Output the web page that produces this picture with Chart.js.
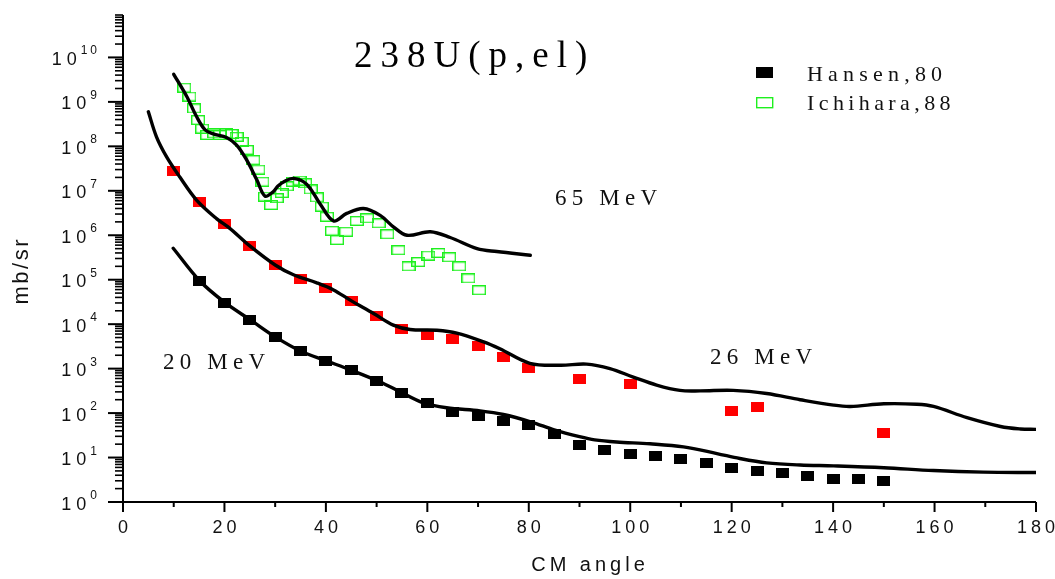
<!DOCTYPE html>
<html>
<head>
<meta charset="utf-8">
<script src="https://cdn.jsdelivr.net/npm/chart.js@4/dist/chart.umd.min.js"></script>
<style>
html,body{margin:0;padding:0;background:#fff;}
#wrap{width:1055px;height:579px;position:relative;}
canvas{display:block;}
</style>
</head>
<body>
<div id="wrap"><canvas id="c" width="1055" height="579"></canvas></div>
<script>
// ---- tick labels ----
const angleTicks = [0, 20, 40, 60, 80, 100, 120, 140, 160, 180];
const angleMinorTicks = [10, 30, 50, 70, 90, 110, 130, 150, 170];
const yDecadeExponents = [0, 1, 2, 3, 4, 5, 6, 7, 8, 9, 10];

// ---- texts ----
const titleText = "238U(p,el)";
const xTitle = "CM angle";
const yTitle = "mb/sr";
const energyLabels = ["65 MeV", "26 MeV", "20 MeV"];
const legendLabels = ["Hansen,80", "Ichihara,88"];

// ---- data: Hansen,80 (20 MeV, filled black squares) ----
const hansenAngles = [15,20,25,30,35,40,45,50,55,60,65,70,75,80,85,90,95,100,105,110,115,120,125,130,135,140,145,150];
const hansenValues = [9.4e4,3.0e4,1.25e4,5.2e3,2.5e3,1.5e3,920,525,278,165,108,88,66,53,33,19.5,15.1,12.0,11.1,9.1,7.4,5.7,5.0,4.4,3.8,3.24,3.24,2.9];

// ---- data: Ichihara,88 (65 MeV, open green squares) ----
const ichiharaAngles = [12.1,13.1,14.0,14.8,15.6,16.6,18.0,19.1,20.3,21.4,22.4,23.4,24.4,25.7,26.7,27.5,28.0,29.2,30.3,31.3,32.3,33.5,34.8,35.9,37.0,38.2,39.2,40.2,41.2,42.2,44.0,46.1,48.1,50.4,52.1,54.3,56.3,58.2,60.2,62.2,64.3,66.3,68.1,70.2];
const ichiharaValues = [2.09e9,1.32e9,7.1e8,3.9e8,2.5e8,1.8e8,1.95e8,1.8e8,1.95e8,1.9e8,1.64e8,1.26e8,8.3e7,4.9e7,3.0e7,1.6e7,7.4e6,4.8e6,6.8e6,8.9e6,1.26e7,1.6e7,1.7e7,1.48e7,1.07e7,7.1e6,4.4e6,2.6e6,1.26e6,7.8e5,1.2e6,2.1e6,2.4e6,1.86e6,1.05e6,4.6e5,2.0e5,2.5e5,3.5e5,4.0e5,3.2e5,2.0e5,1.07e5,5.8e4];

// ---- data: 26 MeV (filled red squares) ----
const data26Angles = [10,15,20,25,30,35,40,45,50,55,60,65,70,75,80,90,100,120,125,150];
const data26Values = [2.8e7,5.6e6,1.8e6,5.8e5,2.15e5,1.05e5,6.4e4,3.3e4,1.5e4,7.8e3,5.6e3,4.7e3,3.2e3,1.84e3,1.06e3,590,453,112,138,35];

// ---- calculations (solid black curves) ----
const calc65Angles = [10.0,12.6,14.5,16.2,17.8,20.4,22.4,24.4,26.4,28.0,29.6,30.5,31.8,33.6,36.2,38.8,41.5,44.1,47.4,50.7,53.3,56.0,60.6,64.5,69.8,73.7,80.3];
const calc65Values = [4.17e9,1.30e9,4.68e8,2.34e8,1.91e8,1.58e8,1.07e8,4.9e7,1.74e7,7.6e6,9.5e6,1.26e7,1.62e7,1.9e7,1.41e7,5.2e6,2.1e6,3.1e6,4.0e6,2.8e6,1.55e6,1.0e6,1.2e6,8.9e5,5.0e5,4.3e5,3.55e5];

const calc26Angles = [5.0,6.6,8.6,11.2,14.5,18.5,21.0,25.0,30.0,33.6,38.2,41.5,44.8,49.4,53.3,56.6,61.9,65.8,71.1,74.3,80.2,86.2,91.4,96.0,100.6,105.2,109.8,113.8,120.3,126.9,133.5,140.1,143.4,150.0,156.5,159.8,166.4,173.0,176.9,180.0];
const calc26Values = [6.0e8,1.64e8,5.8e7,2.04e7,6.2e6,2.34e6,1.45e6,5.75e5,2.14e5,1.29e5,8.5e4,5.9e4,3.47e4,1.74e4,9.5e3,7.6e3,7.3e3,6.3e3,4.0e3,2.8e3,1.32e3,1.19e3,1.26e3,1.0e3,646,427,324,316,324,275,200,151,141,162,158,141,79,50,44,43];

const calc20Angles = [9.9,15.1,20.2,25.2,30.1,35.1,40.2,45.1,50.7,54.6,59.2,63.8,70.4,75.0,80.5,85.0,90.0,93.0,97.3,103.9,110.5,117.1,121.6,126.9,133.5,140.1,150.0,159.8,169.6,180.0];
const calc20Values = [5.1e5,9.5e4,3.0e4,1.23e4,5.1e3,2.45e3,1.48e3,912,501,302,170,132,112,93,63,42,29.5,25,22.4,20.4,17.4,12.3,9.5,7.6,6.8,6.5,5.9,5.1,4.7,4.6];

const pts = (xs, ys) => xs.map((x, i) => ({x: x, y: ys[i]}));

function rectMarker(w, h, fill, stroke) {
  const c = document.createElement('canvas');
  c.width = w; c.height = h;
  const g = c.getContext('2d');
  if (fill) { g.fillStyle = fill; g.fillRect(0, 0, w, h); }
  if (stroke) { g.strokeStyle = stroke; g.lineWidth = 1.4; g.strokeRect(0.7, 0.7, w - 1.4, h - 1.4); }
  return c;
}
const BLACK = '#000000', RED = '#ff0000', GREEN = '#1ef01e';
const mBlack = rectMarker(13, 10, BLACK, null);
const mRed = rectMarker(13, 10, RED, null);
const mGreen = rectMarker(14, 10, null, GREEN);

function lineDs(label, xs, ys) {
  return {label: label, data: pts(xs, ys), showLine: true, borderColor: BLACK, borderWidth: 3.4,
    pointRadius: 0, pointHoverRadius: 0, tension: 0.35, fill: false,
    borderCapStyle: 'round', borderJoinStyle: 'round'};
}
function markDs(label, xs, ys, img) {
  return {label: label, data: pts(xs, ys), showLine: false, pointStyle: img, pointRadius: 6,
    pointHoverRadius: 6, borderColor: 'rgba(0,0,0,0)', backgroundColor: 'rgba(0,0,0,0)'};
}

function sText(ctx, s, x, y, font, spacing, align) {
  ctx.font = font;
  const hasLS = ('letterSpacing' in ctx);
  if (hasLS) ctx.letterSpacing = '0px';
  const base = ctx.measureText(s).width;
  const sp = hasLS ? spacing : 0;
  const w = base + sp * (s.length - 1);
  let left = x;
  if (align === 'center') left = x - w / 2;
  else if (align === 'right') left = x - w;
  if (hasLS) ctx.letterSpacing = sp + 'px';
  ctx.textAlign = 'left';
  ctx.fillText(s, left, y);
  if (hasLS) ctx.letterSpacing = '0px';
  return w;
}

const SANS = '"Liberation Sans", Arial, sans-serif';
const SERIF = '"Liberation Serif", "Times New Roman", serif';

const decorPlugin = {
  id: 'decor',
  beforeDatasetsDraw(chart) {
    const ctx = chart.ctx, a = chart.chartArea, xs = chart.scales.x, ys = chart.scales.y;
    ctx.save();
    ctx.strokeStyle = BLACK;
    ctx.lineCap = 'butt';
    ctx.lineWidth = 2;
    ctx.beginPath();
    ctx.moveTo(a.left, a.top); ctx.lineTo(a.left, a.bottom + 10);
    ctx.moveTo(a.left - 15, a.bottom); ctx.lineTo(a.right, a.bottom);
    ctx.stroke();
    yDecadeExponents.forEach(n => {
      const v = Math.pow(10, n);
      const py = ys.getPixelForValue(v);
      ctx.lineWidth = 2;
      ctx.beginPath(); ctx.moveTo(a.left - 15, py); ctx.lineTo(a.left, py); ctx.stroke();
      for (let k = 2; k <= 9; k++) {
        const mv = k * v;
        if (mv > ys.max * 1.0001) break;
        const my = ys.getPixelForValue(mv);
        ctx.lineWidth = 1.6;
        ctx.beginPath(); ctx.moveTo(a.left - 8, my); ctx.lineTo(a.left, my); ctx.stroke();
      }
    });
    ctx.lineWidth = 2;
    angleTicks.forEach(t => {
      const px = xs.getPixelForValue(t);
      ctx.beginPath(); ctx.moveTo(px, a.bottom); ctx.lineTo(px, a.bottom + 10); ctx.stroke();
    });
    angleMinorTicks.forEach(t => {
      const px = xs.getPixelForValue(t);
      ctx.beginPath(); ctx.moveTo(px, a.bottom); ctx.lineTo(px, a.bottom + 5); ctx.stroke();
    });
    ctx.restore();
  },
  afterDraw(chart) {
    const ctx = chart.ctx, a = chart.chartArea, xs = chart.scales.x, ys = chart.scales.y;
    ctx.save();
    ctx.fillStyle = '#111111';
    ctx.textBaseline = 'alphabetic';
    yDecadeExponents.forEach(n => {
      const py = ys.getPixelForValue(Math.pow(10, n));
      const expW = sText(ctx, String(n), 97, py - 3, '12px ' + SANS, 3, 'right');
      sText(ctx, '10', 97 - expW - 4, py + 7.5, '18px ' + SANS, 5, 'right');
    });
    angleTicks.forEach(t => {
      const px = xs.getPixelForValue(t);
      sText(ctx, String(t), px, 533, '18px ' + SANS, 4, 'center');
    });
    sText(ctx, xTitle, 588, 571, '20px ' + SANS, 4, 'center');
    ctx.save();
    ctx.translate(28, 272);
    ctx.rotate(-Math.PI / 2);
    sText(ctx, yTitle, 0, 0, '22px ' + SANS, 2.5, 'center');
    ctx.restore();
    ctx.fillStyle = '#000000';
    sText(ctx, titleText, 354, 67, '37px ' + SERIF, 8, 'left');
    ctx.fillStyle = '#111111';
    sText(ctx, energyLabels[0], 555, 205, '23px ' + SERIF, 5.2, 'left');
    sText(ctx, energyLabels[1], 710, 364, '23px ' + SERIF, 5.2, 'left');
    sText(ctx, energyLabels[2], 163, 369, '23px ' + SERIF, 5.2, 'left');
    ctx.fillStyle = BLACK;
    ctx.fillRect(756, 67, 17, 11);
    ctx.strokeStyle = GREEN; ctx.lineWidth = 1.4;
    ctx.strokeRect(756.7, 97.7, 16, 10);
    ctx.fillStyle = '#111111';
    sText(ctx, legendLabels[0], 807, 81, '22px ' + SERIF, 5.2, 'left');
    sText(ctx, legendLabels[1], 807, 110, '22px ' + SERIF, 4.4, 'left');
    ctx.restore();
  }
};

new Chart(document.getElementById('c'), {
  type: 'scatter',
  data: {
    datasets: [
      lineDs('calc 65 MeV', calc65Angles, calc65Values),
      lineDs('calc 26 MeV', calc26Angles, calc26Values),
      lineDs('calc 20 MeV', calc20Angles, calc20Values),
      markDs(legendLabels[0], hansenAngles, hansenValues, mBlack),
      markDs('26 MeV data', data26Angles, data26Values, mRed),
      markDs(legendLabels[1], ichiharaAngles, ichiharaValues, mGreen)
    ]
  },
  options: {
    responsive: false,
    animation: false,
    devicePixelRatio: 1,
    layout: {padding: {left: 123, right: 19, top: 15, bottom: 77}},
    plugins: {legend: {display: false}, tooltip: {enabled: false}, title: {display: false}},
    events: [],
    scales: {
      x: {type: 'linear', min: 0, max: 180, display: false},
      y: {type: 'logarithmic', min: 1, max: 9e10, display: false}
    }
  },
  plugins: [decorPlugin]
});
</script>
</body>
</html>
